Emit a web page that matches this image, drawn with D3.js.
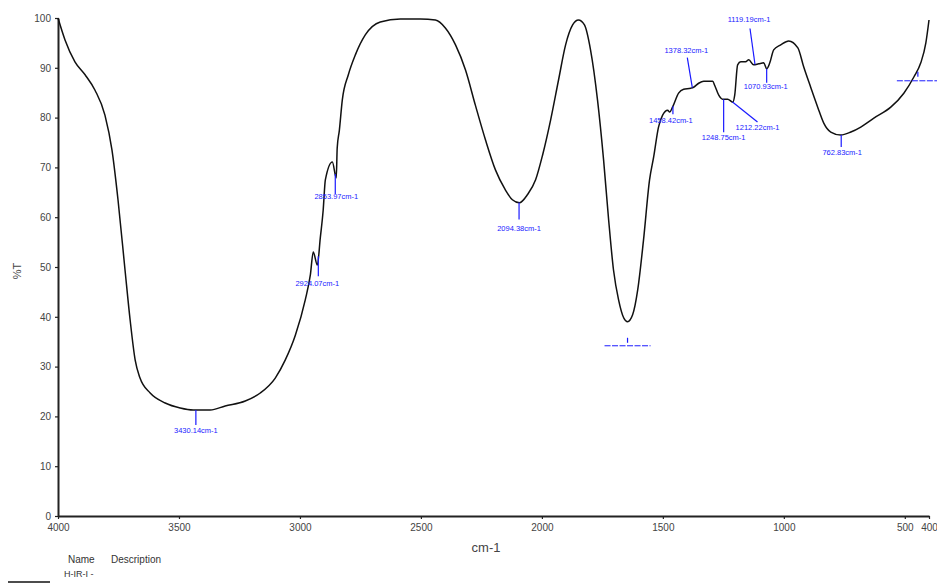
<!DOCTYPE html>
<html>
<head>
<meta charset="utf-8">
<script src="https://cdn.jsdelivr.net/npm/d3@7"></script>
<style>
  body { margin: 0; background: #fff; }
  svg { display: block; }
</style>
</head>
<body>
<div id="chart"></div>
<script>
/////////////////////////////////////////
//////////////// DATA ///////////////////
/////////////////////////////////////////

// spectrum: wavenumber (cm-1) and %T
const wavenumbers = [4000, 3971, 3930, 3888, 3847, 3806, 3777, 3752, 3723, 3702, 3681, 3661, 3619, 3557, 3495, 3441, 3371, 3309, 3226, 3164, 3102, 3061, 3019, 2978, 2957, 2945, 2928, 2916, 2904, 2895, 2866, 2850, 2846, 2837, 2825, 2800, 2771, 2730, 2668, 2585, 2502, 2440, 2399, 2357, 2316, 2275, 2233, 2192, 2151, 2122, 2093, 2060, 2026, 1997, 1964, 1931, 1902, 1873, 1849, 1824, 1799, 1770, 1745, 1724, 1704, 1683, 1662, 1646, 1625, 1604, 1580, 1555, 1538, 1518, 1501, 1480, 1472, 1460, 1435, 1414, 1385, 1373, 1352, 1331, 1294, 1286, 1269, 1253, 1232, 1211, 1203, 1191, 1178, 1158, 1145, 1125, 1104, 1083, 1071, 1058, 1042, 1013, 980, 942, 918, 889, 860, 835, 806, 765, 723, 682, 628, 558, 504, 462, 434, 413, 400];
const transmittance = [100, 95.6, 91.2, 88.6, 85.5, 80.5, 73.5, 63.5, 49.4, 39.4, 31.3, 27.7, 24.7, 22.7, 21.7, 21.3, 21.3, 22.1, 23.1, 24.7, 27.7, 31.3, 36.3, 43.4, 48.4, 53.0, 50.4, 55.8, 61.4, 67.5, 71.1, 67.9, 73.9, 77.5, 83.5, 88.6, 92.6, 96.6, 99.2, 99.8, 99.8, 99.6, 98.0, 94.6, 89.6, 82.5, 75.5, 69.5, 65.5, 63.5, 62.9, 64.5, 67.5, 72.5, 79.5, 87.6, 94.6, 98.6, 99.6, 98.6, 93.6, 83.5, 71.5, 59.4, 49.4, 43.4, 39.8, 39.0, 40.4, 45.4, 55.4, 67.5, 72.1, 78.1, 80.5, 81.5, 81.1, 82.1, 84.9, 85.7, 85.9, 86.1, 86.9, 87.3, 87.3, 86.5, 84.5, 83.7, 83.7, 83.1, 84.5, 90.6, 91.2, 91.2, 91.6, 90.6, 90.8, 91.0, 89.8, 91.0, 93.6, 94.6, 95.4, 94.0, 90.2, 86.1, 82.1, 78.9, 77.1, 76.5, 77.1, 78.1, 79.9, 82.1, 84.9, 88.2, 91.0, 95.0, 99.6];

// peak picks
const peakWn = [3430.14, 2924.07, 2853.97, 2094.38, 1646, 1458.42, 1378.32, 1248.75, 1212.22, 1119.19, 1070.93, 762.83, 446];
const peakLabels = ["3430.14cm-1", "2924.07cm-1", "2853.97cm-1", "2094.38cm-1", "", "1458.42cm-1", "1378.32cm-1", "1248.75cm-1", "1212.22cm-1", "1119.19cm-1", "1070.93cm-1", "762.83cm-1", ""];

const xTicks = [4000, 3500, 3000, 2500, 2000, 1500, 1000, 500, 400];
const yTicks = [0, 10, 20, 30, 40, 50, 60, 70, 80, 90, 100];

const xTitle = "cm-1";
const yTitle = "%T";
const legendHead = ["Name", "Description"];
const legendName = "H-IR-I -";

/////////////////////////////////////////
//////////////// LAYOUT /////////////////
/////////////////////////////////////////

const WIDTH = 937, HEIGHT = 583;
const X0 = 58, X1 = 929, Y0 = 516, Y1 = 18;

// callout geometry per peak: line end (lx, ly), text pos (tx, ty), "dash" = hidden label
const callouts = [
  {lx: 0, ly: 15, tx: 0, ty: 23},
  {lx: 0, ly: 20, tx: -1, ty: 30},
  {lx: 0, ly: 20, tx: 1, ty: 25},
  {lx: 0, ly: 17, tx: 0, ty: 28},
  {dash: true, t0: 16, t1: 21, hy: 24, h0: -23, h1: 23},
  {lx: 0, ly: 8, tx: -2, ty: 17},
  {lx: -5, ly: -30, tx: -6, ty: -35},
  {lx: 0, ly: 33, tx: 0, ty: 41},
  {lx: 25, ly: 20, tx: 25, ty: 28},
  {lx: -5, ly: -36, tx: -6, ty: -43},
  {lx: 0, ly: 14, tx: -1, ty: 20},
  {lx: 0, ly: 12, tx: 1, ty: 20},
  {dash: true, t0: 3, t1: 8, hy: 12, h0: -21, h1: 20}
];

const svg = d3.select("#chart").append("svg")
  .attr("width", WIDTH)
  .attr("height", HEIGHT)
  .style("font-family", "Arial, 'Liberation Sans', sans-serif");

const x = d3.scaleLinear().domain([4000, 400]).range([X0, X1]);
const y = d3.scaleLinear().domain([0, 100]).range([Y0, Y1]);

const spectrum = wavenumbers.map((w, i) => ({w: w, t: transmittance[i]}));

// interpolate %T at any wavenumber (data is descending in w)
const tAt = w => {
  for (let i = 1; i < spectrum.length; i++) {
    const a = spectrum[i - 1], b = spectrum[i];
    if (w <= a.w && w >= b.w) {
      const f = (a.w - w) / (a.w - b.w);
      return a.t + f * (b.t - a.t);
    }
  }
  return spectrum[spectrum.length - 1].t;
};

////////////////// axes //////////////////

const xAxis = svg.append("g")
  .attr("transform", `translate(0,${Y0})`)
  .call(d3.axisBottom(x).tickValues(xTicks).tickFormat(d3.format("d")).tickSize(3).tickSizeOuter(0));

const yAxis = svg.append("g")
  .attr("transform", `translate(${X0},0)`)
  .call(d3.axisLeft(y).tickValues(yTicks).tickSize(3).tickSizeOuter(0));

[xAxis, yAxis].forEach(a => {
  a.select(".domain").attr("stroke", "#222").attr("stroke-width", 2);
  a.selectAll(".tick line").attr("stroke", "#222").attr("stroke-width", 1.2);
  a.selectAll(".tick text").attr("fill", "#444").attr("font-size", 10);
});
xAxis.selectAll(".tick text").attr("dy", "0.85em");
yAxis.selectAll(".tick text").attr("dx", "-0.1em");

svg.append("text")
  .attr("x", 486).attr("y", 552)
  .attr("text-anchor", "middle")
  .attr("font-size", 13).attr("fill", "#444")
  .text(xTitle);

svg.append("text")
  .attr("transform", "translate(21,271) rotate(-90)")
  .attr("text-anchor", "middle")
  .attr("font-size", 11).attr("fill", "#444")
  .text(yTitle);

////////////////// spectrum //////////////////

const line = d3.line()
  .x(d => x(d.w))
  .y(d => y(d.t))
  .curve(d3.curveMonotoneX);

svg.append("path")
  .datum(spectrum)
  .attr("fill", "none")
  .attr("stroke", "#111")
  .attr("stroke-width", 1.5)
  .attr("d", line);

////////////////// peak callouts //////////////////

const blue = "#1a1aff";
const peaksG = svg.append("g");

peakWn.forEach((w, i) => {
  const c = callouts[i];
  const px = x(w), py = y(tAt(w));
  if (c.dash) {
    peaksG.append("line")
      .attr("x1", px).attr("x2", px)
      .attr("y1", py + c.t0).attr("y2", py + c.t1)
      .attr("stroke", blue).attr("stroke-width", 1.2);
    peaksG.append("line")
      .attr("x1", px + c.h0).attr("x2", px + c.h1)
      .attr("y1", py + c.hy).attr("y2", py + c.hy)
      .attr("stroke", blue).attr("stroke-width", 1)
      .attr("stroke-dasharray", "6,1.5");
    return;
  }
  peaksG.append("line")
    .attr("x1", px).attr("y1", py)
    .attr("x2", px + c.lx).attr("y2", py + c.ly)
    .attr("stroke", blue).attr("stroke-width", 1.2);
  peaksG.append("text")
    .attr("x", px + c.tx).attr("y", py + c.ty)
    .attr("text-anchor", "middle")
    .attr("font-size", 7.5).attr("fill", blue)
    .text(peakLabels[i]);
});

////////////////// legend //////////////////

svg.append("text")
  .attr("x", 68).attr("y", 563)
  .attr("font-size", 10).attr("fill", "#333")
  .text(legendHead[0]);
svg.append("text")
  .attr("x", 111).attr("y", 563)
  .attr("font-size", 10).attr("fill", "#333")
  .text(legendHead[1]);
svg.append("text")
  .attr("x", 64).attr("y", 577)
  .attr("font-size", 9).attr("fill", "#333")
  .text(legendName);
svg.append("line")
  .attr("x1", 8).attr("x2", 50)
  .attr("y1", 582).attr("y2", 582)
  .attr("stroke", "#111").attr("stroke-width", 1.5);
</script>
</body>
</html>
